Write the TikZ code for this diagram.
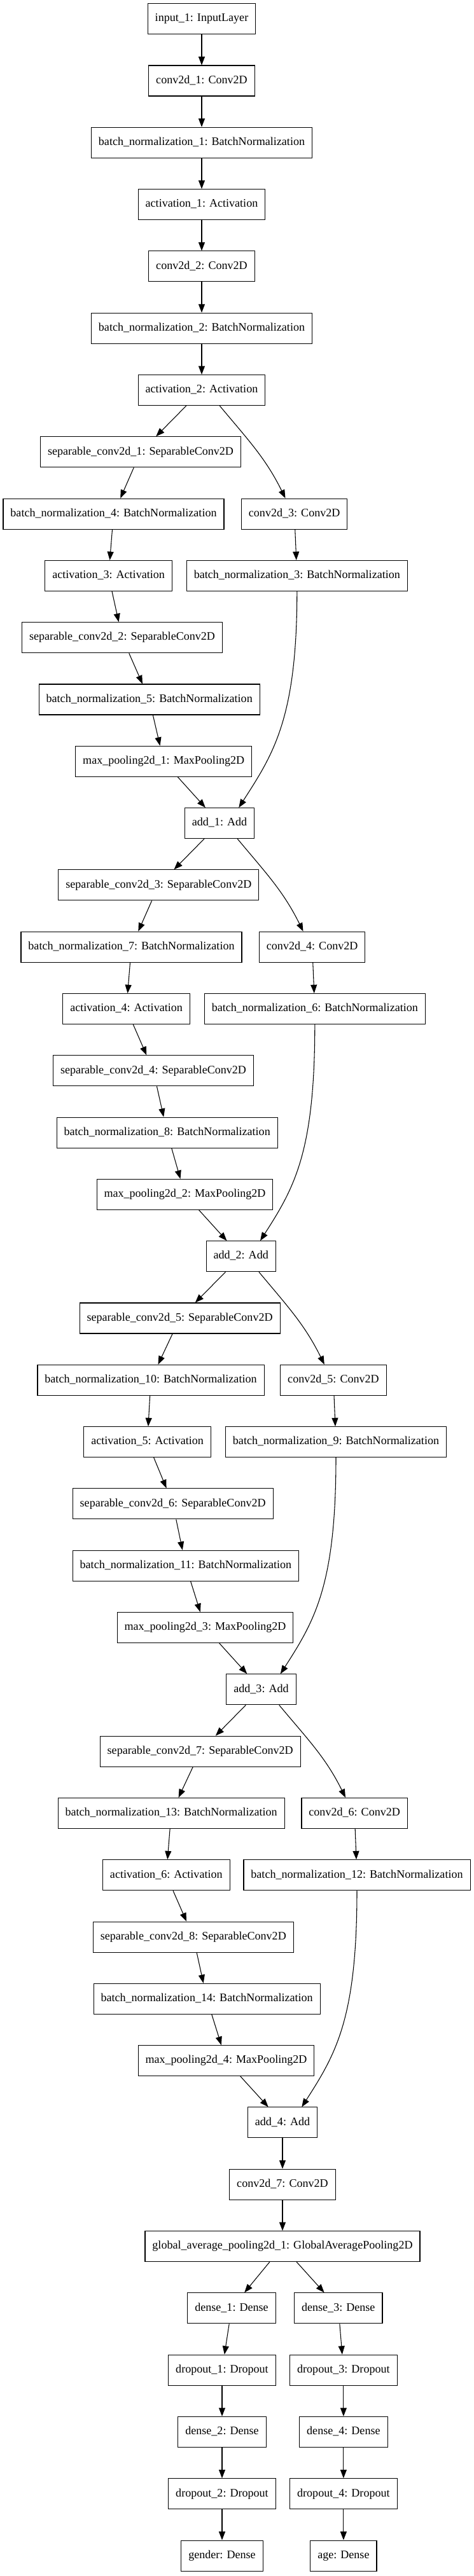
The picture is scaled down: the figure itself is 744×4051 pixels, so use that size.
\documentclass[tikz,border=0pt]{standalone}
\usepackage{fontspec}
\setmainfont{Liberation Serif}
\usetikzlibrary{arrows.meta}

\tikzset{
  layer/.style={draw, line width=0.8pt, rectangle, minimum height=36pt,
                inner xsep=8.6pt, inner ysep=0pt,
                font=\fontsize{13.55}{16}\selectfont, text height=9.3pt, text depth=2.9pt},
  edge/.style={line width=0.8pt, -{Triangle[length=10pt,width=7.5pt]}}
}

\begin{document}
\begin{tikzpicture}[x=0.75pt, y=-0.75pt]
    \useasboundingbox (0,0) rectangle (744,4051);

    % Stem
    \node[layer] (in1)   at (317,29.7)  {input\_1: InputLayer};
    \node[layer] (conv1) at (317,127.0) {conv2d\_1: Conv2D};
    \node[layer] (bn1)   at (317,224.3) {batch\_normalization\_1: BatchNormalization};
    \node[layer] (act1)  at (317,321.6) {activation\_1: Activation};
    \node[layer] (conv2) at (317,418.9) {conv2d\_2: Conv2D};
    \node[layer] (bn2)   at (317,516.2) {batch\_normalization\_2: BatchNormalization};
    \node[layer] (act2)  at (317,613.5) {activation\_2: Activation};

    % Block 1
    \node[layer] (sep1)  at (221,710.8)    {separable\_conv2d\_1: SeparableConv2D};
    \node[layer] (bn4)   at (178.5,808.1)  {batch\_normalization\_4: BatchNormalization};
    \node[layer] (conv3) at (462.7,808.1)  {conv2d\_3: Conv2D};
    \node[layer] (act3)  at (170.6,905.4)  {activation\_3: Activation};
    \node[layer] (bn3)   at (466.8,905.4)  {batch\_normalization\_3: BatchNormalization};
    \node[layer] (sep2)  at (192,1002.7)   {separable\_conv2d\_2: SeparableConv2D};
    \node[layer] (bn5)   at (234.7,1100.0) {batch\_normalization\_5: BatchNormalization};
    \node[layer] (pool1) at (257.2,1197.3) {max\_pooling2d\_1: MaxPooling2D};
    \node[layer] (add1)  at (345,1294.6)   {add\_1: Add};

    % Block 2
    \node[layer] (sep3)  at (249.4,1391.9) {separable\_conv2d\_3: SeparableConv2D};
    \node[layer] (bn7)   at (206.5,1489.2) {batch\_normalization\_7: BatchNormalization};
    \node[layer] (conv4) at (490.7,1489.2) {conv2d\_4: Conv2D};
    \node[layer] (act4)  at (198.6,1586.5) {activation\_4: Activation};
    \node[layer] (bn6)   at (494.8,1586.5) {batch\_normalization\_6: BatchNormalization};
    \node[layer] (sep4)  at (241,1683.8)   {separable\_conv2d\_4: SeparableConv2D};
    \node[layer] (bn8)   at (262.7,1781.1) {batch\_normalization\_8: BatchNormalization};
    \node[layer] (pool2) at (290.5,1878.4) {max\_pooling2d\_2: MaxPooling2D};
    \node[layer] (add2)  at (378.7,1975.7) {add\_2: Add};

    % Block 3
    \node[layer] (sep5)  at (282.6,2073.0) {separable\_conv2d\_5: SeparableConv2D};
    \node[layer] (bn10)  at (237,2170.3)   {batch\_normalization\_10: BatchNormalization};
    \node[layer] (conv5) at (524,2170.3)   {conv2d\_5: Conv2D};
    \node[layer] (act5)  at (231.6,2267.6) {activation\_5: Activation};
    \node[layer] (bn9)   at (528,2267.6)   {batch\_normalization\_9: BatchNormalization};
    \node[layer] (sep6)  at (271.7,2364.9) {separable\_conv2d\_6: SeparableConv2D};
    \node[layer] (bn11)  at (291.9,2462.2) {batch\_normalization\_11: BatchNormalization};
    \node[layer] (pool3) at (322.5,2559.5) {max\_pooling2d\_3: MaxPooling2D};
    \node[layer] (add3)  at (410.5,2656.8) {add\_3: Add};

    % Block 4
    \node[layer] (sep7)  at (314.7,2754.1) {separable\_conv2d\_7: SeparableConv2D};
    \node[layer] (bn13)  at (269.1,2851.4) {batch\_normalization\_13: BatchNormalization};
    \node[layer] (conv6) at (557.2,2851.4) {conv2d\_6: Conv2D};
    \node[layer] (act6)  at (261.3,2948.7) {activation\_6: Activation};
    \node[layer] (bn12)  at (561,2948.7)   {batch\_normalization\_12: BatchNormalization};
    \node[layer] (sep8)  at (303.8,3046.0) {separable\_conv2d\_8: SeparableConv2D};
    \node[layer] (bn14)  at (325.1,3143.3) {batch\_normalization\_14: BatchNormalization};
    \node[layer] (pool4) at (355.5,3240.6) {max\_pooling2d\_4: MaxPooling2D};
    \node[layer] (add4)  at (444,3337.9)   {add\_4: Add};

    % Heads
    \node[layer] (conv7)  at (444,3435.2)   {conv2d\_7: Conv2D};
    \node[layer] (gap)    at (444,3532.5)   {global\_average\_pooling2d\_1: GlobalAveragePooling2D};
    \node[layer] (dense1) at (364,3629.8)   {dense\_1: Dense};
    \node[layer] (dense3) at (531.8,3629.8) {dense\_3: Dense};
    \node[layer] (drop1)  at (349,3727.1)   {dropout\_1: Dropout};
    \node[layer] (drop3)  at (539.9,3727.1) {dropout\_3: Dropout};
    \node[layer] (dense2) at (349,3824.4)   {dense\_2: Dense};
    \node[layer] (dense4) at (539.9,3824.4) {dense\_4: Dense};
    \node[layer] (drop2)  at (349,3921.7)   {dropout\_2: Dropout};
    \node[layer] (drop4)  at (539.9,3921.7) {dropout\_4: Dropout};
    \node[layer] (gender) at (349,4019.0)   {gender: Dense};
    \node[layer] (age)    at (539.9,4019.0) {age: Dense};

    % Straight connections
    \foreach \a/\b in {in1/conv1, conv1/bn1, bn1/act1, act1/conv2, conv2/bn2, bn2/act2,
        act2/sep1, sep1/bn4, bn4/act3, act3/sep2, sep2/bn5, bn5/pool1, pool1/add1, conv3/bn3,
        add1/sep3, sep3/bn7, bn7/act4, act4/sep4, sep4/bn8, bn8/pool2, pool2/add2, conv4/bn6,
        add2/sep5, sep5/bn10, bn10/act5, act5/sep6, sep6/bn11, bn11/pool3, pool3/add3, conv5/bn9,
        add3/sep7, sep7/bn13, bn13/act6, act6/sep8, sep8/bn14, bn14/pool4, pool4/add4, conv6/bn12,
        add4/conv7, conv7/gap, gap/dense1, gap/dense3,
        dense1/drop1, drop1/dense2, dense2/drop2, drop2/gender,
        dense3/drop3, drop3/dense4, dense4/drop4, drop4/age}
        \draw[edge] (\a) -- (\b);

    % Shortcut branches
    \foreach \a/\b in {act2/conv3, add1/conv4, add2/conv5, add3/conv6}
        \draw[edge] (\a.-41) .. controls +(45,54) and +(-31,-63) .. (\b.120);
    \foreach \a/\b in {bn3/add1, bn6/add2, bn9/add3, bn12/add4}
        \draw[edge] (\a.south) .. controls +(0,200) and +(54,-84) .. (\b.39);
\end{tikzpicture}
\end{document}
